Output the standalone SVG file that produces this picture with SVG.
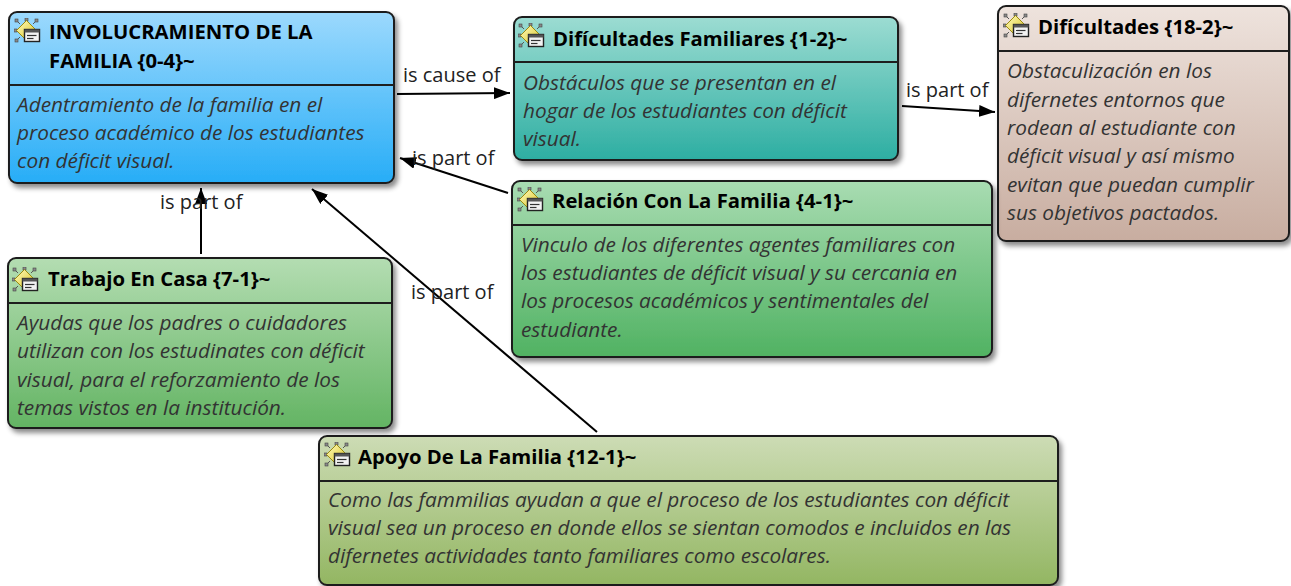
<svg xmlns="http://www.w3.org/2000/svg" xmlns:xlink="http://www.w3.org/1999/xlink" width="1291" height="586" viewBox="0 0 1291 586">
<style>
.box{stroke:#1e1e1e;stroke-width:2}
.div{stroke:#1e1e1e;stroke-width:2}
.t{font-family:"Open Sans","Noto Sans",sans-serif;font-weight:bold;font-size:20.3px;fill:#000}
.b{font-family:"Open Sans","Noto Sans",sans-serif;font-style:italic;font-size:20.8px;fill:#333}
.lab{font-family:"Open Sans","Noto Sans",sans-serif;font-size:20px;fill:#222}
.ln{stroke:#000;stroke-width:2;fill:none}
</style>
<defs>
<filter id="sh" x="-5%" y="-5%" width="115%" height="120%">
<feDropShadow dx="3" dy="4" stdDeviation="2.5" flood-color="#000" flood-opacity="0.45"/>
</filter>
<linearGradient id="g1" x1="0" y1="0" x2="0" y2="1"><stop offset="0" stop-color="#9cd9fd"/><stop offset="1" stop-color="#27adf7"/></linearGradient>
<linearGradient id="g2" x1="0" y1="0" x2="0" y2="1"><stop offset="0" stop-color="#9cdcd2"/><stop offset="1" stop-color="#2daea2"/></linearGradient>
<linearGradient id="g3" x1="0" y1="0" x2="0" y2="1"><stop offset="0" stop-color="#eee3dd"/><stop offset="1" stop-color="#c8ada0"/></linearGradient>
<linearGradient id="g4" x1="0" y1="0" x2="0" y2="1"><stop offset="0" stop-color="#a9dcb2"/><stop offset="1" stop-color="#50b262"/></linearGradient>
<linearGradient id="g5" x1="0" y1="0" x2="0" y2="1"><stop offset="0" stop-color="#b4ddb2"/><stop offset="1" stop-color="#63b463"/></linearGradient>
<linearGradient id="g6" x1="0" y1="0" x2="0" y2="1"><stop offset="0" stop-color="#cddcb5"/><stop offset="1" stop-color="#93b662"/></linearGradient>
<linearGradient id="gy" x1="0" y1="0" x2="1" y2="1"><stop offset="0" stop-color="#fffbc0"/><stop offset="1" stop-color="#d9c21a"/></linearGradient>
<symbol id="ic" viewBox="0 0 27 25">
<g fill="#8a8a8a" stroke="#444" stroke-width="0.6">
<rect x="1" y="1" width="3" height="3"/><rect x="11" y="0" width="3" height="3"/><rect x="21" y="1" width="3" height="3"/>
<rect x="0" y="11" width="3" height="3"/><rect x="1" y="21" width="3" height="3"/>
</g>
<g stroke="#555" stroke-width="1"><line x1="4" y1="4" x2="6" y2="6"/><line x1="21" y1="4" x2="19" y2="6"/><line x1="4" y1="21" x2="6" y2="19"/></g>
<polygon points="12.5,2.5 22.5,12.5 12.5,22.5 2.5,12.5" fill="url(#gy)" stroke="#9a8a10" stroke-width="1"/>
<rect x="10.5" y="11.5" width="15" height="12" fill="#f2f2f2" stroke="#222" stroke-width="1.4"/>
<rect x="10.5" y="11.5" width="15" height="3" fill="#555"/>
<line x1="13" y1="17.5" x2="22.5" y2="17.5" stroke="#333" stroke-width="1.2"/>
<line x1="13" y1="20.5" x2="19.5" y2="20.5" stroke="#333" stroke-width="1.2"/>
</symbol>
<marker id="ah" viewBox="0 0 16 12" refX="16" refY="6" markerWidth="16" markerHeight="12" markerUnits="userSpaceOnUse" orient="auto">
<path d="M0,0 L16,6 L0,12 Z" fill="#000"/>
</marker>
</defs>

<g id="connectors">
<line class="ln" x1="397" y1="94" x2="510" y2="93" marker-end="url(#ah)"/>
<text class="lab" x="403" y="82">is cause of</text>
<line class="ln" x1="902" y1="106" x2="995" y2="112" marker-end="url(#ah)"/>
<text class="lab" x="906" y="97">is part of</text>
<line class="ln" x1="508" y1="193" x2="400" y2="158" marker-end="url(#ah)"/>
<text class="lab" x="412" y="165">is part of</text>
<line class="ln" x1="201" y1="254" x2="201" y2="188" marker-end="url(#ah)"/>
<text class="lab" x="160" y="209">is part of</text>
<line class="ln" x1="597" y1="432" x2="312" y2="189" marker-end="url(#ah)"/>
<text class="lab" x="411" y="299">is part of</text>
</g>

<g id="n1">
<rect class="box" x="9" y="12" width="385" height="171" rx="8" fill="url(#g1)" filter="url(#sh)"/>
<line class="div" x1="9" y1="85" x2="394" y2="85"/>
<use xlink:href="#ic" href="#ic" x="14" y="18" width="27" height="25"/>
<text class="t" x="49" y="39">INVOLUCRAMIENTO DE LA</text>
<text class="t" x="49" y="68">FAMILIA {0-4}~</text>
<text class="b" x="17" y="112">Adentramiento de la familia en el</text>
<text class="b" x="17" y="140">proceso académico de los estudiantes</text>
<text class="b" x="17" y="168">con déficit visual.</text>
</g>

<g id="n2">
<rect class="box" x="514" y="17" width="384" height="143" rx="8" fill="url(#g2)" filter="url(#sh)"/>
<line class="div" x1="514" y1="62" x2="898" y2="62"/>
<use xlink:href="#ic" href="#ic" x="518" y="23" width="27" height="25"/>
<text class="t" x="553" y="46">Difícultades Familiares {1-2}~</text>
<text class="b" x="523" y="90">Obstáculos que se presentan en el</text>
<text class="b" x="523" y="118">hogar de los estudiantes con déficit</text>
<text class="b" x="523" y="146">visual.</text>
</g>

<g id="n3">
<rect class="box" x="998" y="6" width="291" height="235" rx="8" fill="url(#g3)" filter="url(#sh)"/>
<line class="div" x1="998" y1="51" x2="1289" y2="51"/>
<use xlink:href="#ic" href="#ic" x="1003" y="13" width="27" height="25"/>
<text class="t" x="1038" y="34">Difícultades {18-2}~</text>
<text class="b" x="1007" y="78">Obstaculización en los</text>
<text class="b" x="1007" y="107">difernetes entornos que</text>
<text class="b" x="1007" y="135">rodean al estudiante con</text>
<text class="b" x="1007" y="163">déficit visual y así mismo</text>
<text class="b" x="1007" y="192">evitan que puedan cumplir</text>
<text class="b" x="1007" y="220">sus objetivos pactados.</text>
</g>

<g id="n4">
<rect class="box" x="512" y="181" width="480" height="176" rx="8" fill="url(#g4)" filter="url(#sh)"/>
<line class="div" x1="512" y1="225" x2="992" y2="225"/>
<use xlink:href="#ic" href="#ic" x="517" y="187" width="27" height="25"/>
<text class="t" x="552" y="208">Relación Con La Familia {4-1}~</text>
<text class="b" x="521" y="252">Vinculo de los diferentes agentes familiares con</text>
<text class="b" x="521" y="280">los estudiantes de déficit visual y su cercania en</text>
<text class="b" x="521" y="308">los procesos académicos y sentimentales del</text>
<text class="b" x="521" y="337">estudiante.</text>
</g>

<g id="n5">
<rect class="box" x="8" y="258" width="384" height="170" rx="8" fill="url(#g5)" filter="url(#sh)"/>
<line class="div" x1="8" y1="303" x2="392" y2="303"/>
<use xlink:href="#ic" href="#ic" x="12" y="267" width="27" height="25"/>
<text class="t" x="48" y="286">Trabajo En Casa {7-1}~</text>
<text class="b" x="17" y="330">Ayudas que los padres o cuidadores</text>
<text class="b" x="17" y="358">utilizan con los estudinates con déficit</text>
<text class="b" x="17" y="387">visual, para el reforzamiento de los</text>
<text class="b" x="17" y="415">temas vistos en la institución.</text>
</g>

<g id="n6">
<rect class="box" x="319" y="436" width="739" height="149" rx="8" fill="url(#g6)" filter="url(#sh)"/>
<line class="div" x1="319" y1="481" x2="1058" y2="481"/>
<use xlink:href="#ic" href="#ic" x="324" y="442" width="27" height="25"/>
<text class="t" x="358" y="464">Apoyo De La Familia {12-1}~</text>
<text class="b" x="328" y="507">Como las fammilias ayudan a que el proceso de los estudiantes con déficit</text>
<text class="b" x="328" y="535">visual sea un proceso en donde ellos se sientan comodos e incluidos en las</text>
<text class="b" x="328" y="563">difernetes actividades tanto familiares como escolares.</text>
</g>
</svg>
